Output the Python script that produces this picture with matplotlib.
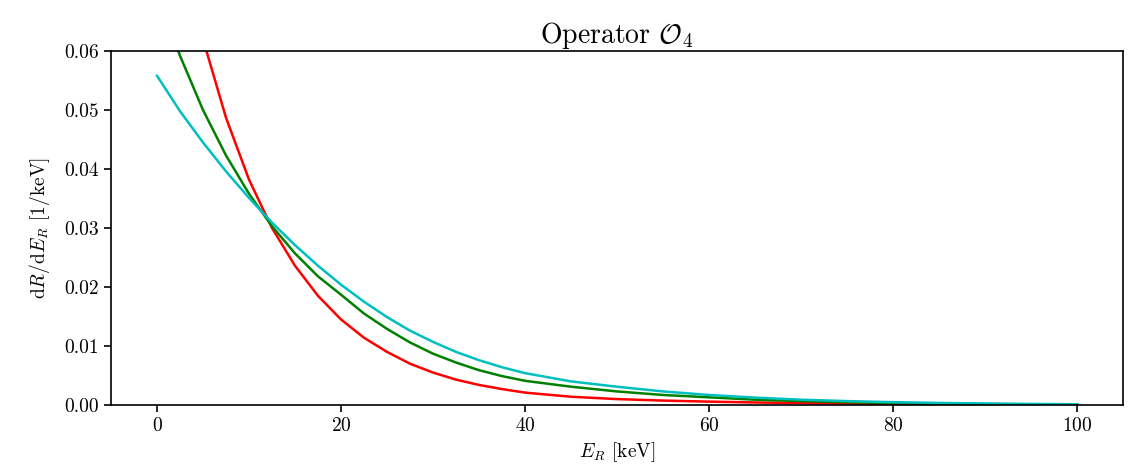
import matplotlib
matplotlib.use("Agg")
import matplotlib.pyplot as plt

plt.rcParams['font.family'] = 'serif'
plt.rcParams['font.serif'] = ['cmr10']
plt.rcParams['mathtext.fontset'] = 'cm'
plt.rcParams['axes.formatter.use_mathtext'] = True

# recoil energies (keV)
energy = [0, 2.5, 5, 7.5, 10, 12.5, 15, 17.5, 20, 22.5, 25, 27.5, 30, 32.5, 35,
          37.5, 40, 45, 50, 55, 60, 65, 70, 75, 80, 85, 90, 95, 100]

rate_red = [0.1006, 0.0790, 0.0620, 0.0487, 0.0382, 0.0300, 0.0236, 0.0185,
            0.0145, 0.0114, 0.0090, 0.0070, 0.0055, 0.0043, 0.0034, 0.0027,
            0.0021, 0.0014, 0.0010, 0.00075, 0.00057, 0.00043, 0.00033,
            0.00025, 0.00019, 0.00014, 0.0001, 0.00008, 0.00006]

rate_green = [0.0700, 0.0592, 0.0500, 0.0423, 0.0358, 0.0303, 0.0257, 0.0218,
              0.0187, 0.0155, 0.0129, 0.0106, 0.0087, 0.0072, 0.0059, 0.0049,
              0.0041, 0.0031, 0.0023, 0.0017, 0.0013, 0.0009, 0.00066,
              0.00047, 0.00034, 0.00024, 0.00017, 0.00012, 0.00009]

rate_cyan = [0.0558, 0.0498, 0.0445, 0.0396, 0.0351, 0.0309, 0.0271, 0.0236,
             0.0204, 0.0175, 0.0149, 0.0126, 0.0107, 0.0090, 0.0076, 0.0064,
             0.0054, 0.0040, 0.0031, 0.0023, 0.0017, 0.00125, 0.0009,
             0.00066, 0.00048, 0.00035, 0.00025, 0.00018, 0.00013]

fig = plt.figure(figsize=(11.36, 4.66), dpi=100)
ax = fig.add_axes([0.0977, 0.1309, 0.8909, 0.7597])

ax.plot(energy, rate_red, color='r', lw=1.8)
ax.plot(energy, rate_green, color='g', lw=1.8)
ax.plot(energy, rate_cyan, color='c', lw=1.8)

ax.set_xlim(-5, 105)
ax.set_ylim(0, 0.06)
ax.set_xticks([0, 20, 40, 60, 80, 100])
ax.set_yticks([0, 0.01, 0.02, 0.03, 0.04, 0.05, 0.06])
ax.set_yticklabels(['0.00', '0.01', '0.02', '0.03', '0.04', '0.05', '0.06'])
ax.tick_params(labelsize=14, length=5, width=1.2)
for s in ax.spines.values():
    s.set_linewidth(1.2)

ax.set_xlabel(r'$E_R$ [keV]', fontsize=14, labelpad=4)
ax.set_ylabel(r'$\mathrm{d}R/\mathrm{d}E_R$ [1/keV]', fontsize=14, labelpad=9)
ax.set_title(r'Operator $\mathcal{O}_4$', fontsize=20)

fig.savefig('out.png', dpi=100)
